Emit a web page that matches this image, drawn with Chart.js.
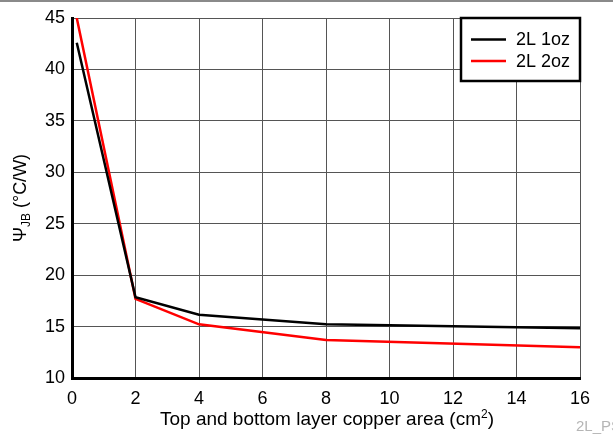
<!DOCTYPE html>
<html>
<head>
<meta charset="utf-8">
<script src="https://cdn.jsdelivr.net/npm/chart.js@4.4.0/dist/chart.umd.min.js"></script>
<style>
html,body{margin:0;padding:0;background:#fff;overflow:hidden;}
#wrap{position:relative;width:613px;height:434px;}
</style>
</head>
<body>
<div id="wrap"><canvas id="c" width="613" height="434"></canvas></div>
<script>
const xTicks = [0, 2, 4, 6, 8, 10, 12, 14, 16];
const yTicks = [10, 15, 20, 25, 30, 35, 40, 45];
const seriesNames = ['2L 1oz', '2L 2oz'];
const seriesColors = ['#000000', '#ff0000'];
const areaX = [0.15, 2, 4, 8, 16];
const psi1oz = [42.6, 17.85, 16.15, 15.23, 14.84];
const psi2oz = [45.0, 17.7, 15.22, 13.7, 12.98];
const xTitle = ['Top and bottom layer copper area (cm', '2', ')'];
const yTitle = ['\u03A8', 'JB', ' (\u00B0C/W)'];
const footNote = '2L_PSI';

const FONT = 'Liberation Sans, Arial, Helvetica, sans-serif';

const decor = {
  id: 'decor',
  afterDraw(chart) {
    const ctx = chart.ctx;
    const ca = chart.chartArea;
    ctx.save();
    // top gray rule
    ctx.fillStyle = '#8a8a8a';
    ctx.fillRect(0, 0, chart.width, 2);
    // legend
    const lx = 461, ly = 18, lw = ca.right - 461, lh = 63;
    ctx.fillStyle = '#fff';
    ctx.fillRect(lx, ly, lw, lh);
    ctx.strokeStyle = '#000';
    ctx.lineWidth = 2.5;
    ctx.strokeRect(lx, ly, lw, lh);
    ctx.font = '18px ' + FONT;
    ctx.textBaseline = 'middle';
    const rows = [39.5, 61];
    seriesNames.forEach((n, i) => {
      ctx.strokeStyle = seriesColors[i];
      ctx.lineWidth = 2.5;
      ctx.beginPath();
      ctx.moveTo(471, rows[i]);
      ctx.lineTo(506, rows[i]);
      ctx.stroke();
      ctx.fillStyle = '#000';
      ctx.fillText(n, 516, rows[i] + 1);
    });
    // x title
    ctx.fillStyle = '#000';
    ctx.textBaseline = 'alphabetic';
    const xbig = '19px ' + FONT, big = '18px ' + FONT, small = '12px ' + FONT;
    ctx.font = xbig;
    const w0 = ctx.measureText(xTitle[0]).width;
    const w2 = ctx.measureText(xTitle[2]).width;
    ctx.font = small;
    const w1 = ctx.measureText(xTitle[1]).width;
    let x = 327 - (w0 + w1 + w2) / 2;
    const by = 425;
    ctx.font = xbig; ctx.fillText(xTitle[0], x, by); x += w0;
    ctx.font = small; ctx.fillText(xTitle[1], x, by - 7); x += w1;
    ctx.font = xbig; ctx.fillText(xTitle[2], x, by);
    // y title rotated
    ctx.save();
    ctx.translate(26, 198);
    ctx.rotate(-Math.PI / 2);
    ctx.font = big;
    const a0 = ctx.measureText(yTitle[0]).width;
    const a2 = ctx.measureText(yTitle[2]).width;
    ctx.font = small;
    const a1 = ctx.measureText(yTitle[1]).width;
    let t = -(a0 + a1 + a2) / 2;
    ctx.font = big; ctx.fillText(yTitle[0], t, 0); t += a0;
    ctx.font = small; ctx.fillText(yTitle[1], t, 4); t += a1;
    ctx.font = big; ctx.fillText(yTitle[2], t, 0);
    ctx.restore();
    // footnote
    ctx.fillStyle = '#b5b5b5';
    ctx.font = '15px ' + FONT;
    ctx.fillText(footNote, 576, 431);
    ctx.restore();
  }
};

new Chart(document.getElementById('c'), {
  type: 'line',
  data: {
    datasets: [
      { label: seriesNames[0], data: areaX.map((x, i) => ({x, y: psi1oz[i]})), borderColor: seriesColors[0], borderWidth: 2.5, pointRadius: 0, tension: 0, fill: false },
      { label: seriesNames[1], data: areaX.map((x, i) => ({x, y: psi2oz[i]})), borderColor: seriesColors[1], borderWidth: 2.5, pointRadius: 0, tension: 0, fill: false }
    ]
  },
  options: {
    responsive: false,
    animation: false,
    devicePixelRatio: 1,
    layout: { padding: { left: 0, right: 33, top: 18, bottom: 0 } },
    plugins: { legend: { display: false }, tooltip: { enabled: false } },
    scales: {
      x: {
        type: 'linear', min: 0, max: 16,
        afterBuildTicks: s => { s.ticks = xTicks.map(v => ({value: v})); },
        afterFit: s => { s.height = 56; },
        grid: { color: '#555', lineWidth: 1, drawTicks: false },
        border: { color: '#000', width: 3 },
        ticks: { color: '#000', font: { family: FONT, size: 18 }, padding: 10, maxRotation: 0 }
      },
      y: {
        type: 'linear', min: 10, max: 45,
        afterBuildTicks: s => { s.ticks = yTicks.map(v => ({value: v})); },
        afterFit: s => { s.width = 72; },
        grid: { color: '#555', lineWidth: 1, drawTicks: false },
        border: { color: '#000', width: 3 },
        ticks: { color: '#000', font: { family: FONT, size: 18 }, padding: 7 }
      }
    }
  },
  plugins: [decor]
});
</script>
</body>
</html>
